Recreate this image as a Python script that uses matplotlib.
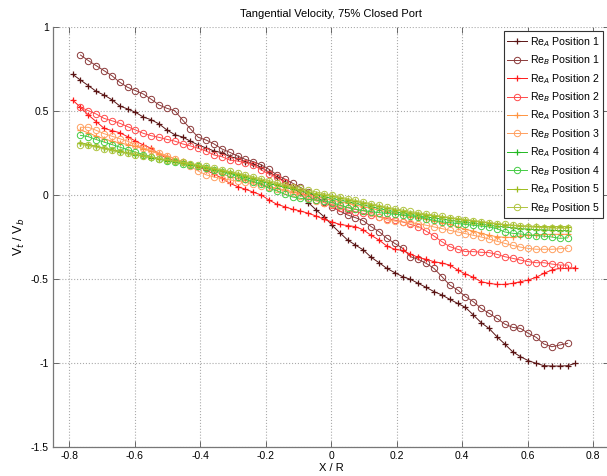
import matplotlib
matplotlib.use("Agg")
import matplotlib.pyplot as plt
from matplotlib.ticker import FuncFormatter

plt.rcParams['font.family'] = ['Liberation Sans', 'DejaVu Sans']
plt.rcParams['axes.unicode_minus'] = False

# measurement positions X/R
x_pos = [-0.790, -0.766, -0.742, -0.718, -0.694, -0.670, -0.646, -0.622, -0.598, -0.574,
         -0.550, -0.526, -0.502, -0.478, -0.454, -0.430, -0.406, -0.382, -0.358, -0.334,
         -0.310, -0.286, -0.262, -0.238, -0.214, -0.190, -0.166, -0.142, -0.118, -0.094,
         -0.070, -0.046, -0.022, 0.002, 0.026, 0.050, 0.074, 0.098, 0.122, 0.146,
         0.170, 0.194, 0.218, 0.242, 0.266, 0.290, 0.314, 0.338, 0.362, 0.386,
         0.410, 0.434, 0.458, 0.482, 0.506, 0.530, 0.554, 0.578, 0.602, 0.626,
         0.650, 0.674, 0.698, 0.722, 0.746]
x_long = x_pos          # Re_A position 1 and 2
x_short = x_pos[1:64]   # all other runs

reA_pos1 = [0.718, 0.684, 0.651, 0.617, 0.595, 0.567, 0.530, 0.512, 0.492, 0.464,
            0.448, 0.423, 0.387, 0.359, 0.345, 0.320, 0.298, 0.280, 0.262, 0.252,
            0.228, 0.218, 0.198, 0.185, 0.165, 0.135, 0.109, 0.080, 0.050, 0.010,
            -0.045, -0.089, -0.129, -0.179, -0.224, -0.268, -0.298, -0.327, -0.371, -0.403,
            -0.437, -0.462, -0.486, -0.502, -0.526, -0.550, -0.575, -0.595, -0.621, -0.645,
            -0.669, -0.714, -0.760, -0.794, -0.843, -0.887, -0.933, -0.962, -0.986, -1.002,
            -1.016, -1.018, -1.018, -1.016, -1.002]
reB_pos1 = [0.833, 0.800, 0.770, 0.740, 0.710, 0.671, 0.641, 0.621, 0.601, 0.570,
            0.536, 0.516, 0.502, 0.446, 0.393, 0.343, 0.327, 0.304, 0.274, 0.254,
            0.232, 0.212, 0.198, 0.180, 0.153, 0.120, 0.095, 0.070, 0.045, 0.020,
            -0.010, -0.040, -0.070, -0.095, -0.119, -0.135, -0.153, -0.188, -0.218, -0.258,
            -0.288, -0.317, -0.367, -0.383, -0.407, -0.437, -0.486, -0.536, -0.565, -0.605,
            -0.635, -0.675, -0.704, -0.734, -0.768, -0.788, -0.794, -0.823, -0.847, -0.887,
            -0.903, -0.893, -0.883]
reA_pos2 = [0.565, 0.522, 0.476, 0.437, 0.397, 0.383, 0.371, 0.347, 0.321, 0.298,
            0.278, 0.244, 0.218, 0.205, 0.195, 0.182, 0.169, 0.147, 0.125, 0.100,
            0.070, 0.050, 0.034, 0.017, 0.000, -0.030, -0.055, -0.070, -0.085, -0.095,
            -0.109, -0.125, -0.145, -0.160, -0.175, -0.182, -0.188, -0.208, -0.240, -0.268,
            -0.304, -0.323, -0.330, -0.352, -0.371, -0.383, -0.397, -0.405, -0.417, -0.446,
            -0.470, -0.490, -0.516, -0.526, -0.532, -0.532, -0.526, -0.516, -0.506, -0.490,
            -0.466, -0.446, -0.437, -0.437, -0.433]
reB_pos2 = [0.522, 0.502, 0.482, 0.456, 0.442, 0.427, 0.407, 0.387, 0.367, 0.353,
            0.343, 0.331, 0.321, 0.304, 0.292, 0.278, 0.262, 0.238, 0.228, 0.208,
            0.202, 0.192, 0.179, 0.149, 0.125, 0.105, 0.075, 0.045, 0.015, -0.008,
            -0.030, -0.045, -0.060, -0.075, -0.090, -0.100, -0.110, -0.120, -0.130, -0.140,
            -0.150, -0.160, -0.175, -0.188, -0.215, -0.244, -0.278, -0.307, -0.323, -0.337,
            -0.337, -0.341, -0.343, -0.353, -0.367, -0.377, -0.387, -0.397, -0.403, -0.403,
            -0.411, -0.417, -0.417]
reA_pos3 = [0.387, 0.370, 0.350, 0.335, 0.320, 0.310, 0.300, 0.290, 0.275, 0.260,
            0.245, 0.230, 0.215, 0.200, 0.185, 0.170, 0.155, 0.140, 0.125, 0.110,
            0.100, 0.088, 0.075, 0.063, 0.050, 0.040, 0.030, 0.020, 0.010, 0.000,
            -0.010, -0.020, -0.030, -0.040, -0.050, -0.060, -0.070, -0.080, -0.090, -0.100,
            -0.110, -0.120, -0.128, -0.135, -0.145, -0.155, -0.165, -0.175, -0.190, -0.205,
            -0.215, -0.228, -0.240, -0.248, -0.252, -0.252, -0.245, -0.240, -0.237, -0.235,
            -0.234, -0.234, -0.234]
reB_pos3 = [0.403, 0.403, 0.385, 0.365, 0.350, 0.335, 0.320, 0.300, 0.280, 0.265,
            0.250, 0.235, 0.215, 0.195, 0.170, 0.142, 0.120, 0.107, 0.097, 0.090,
            0.082, 0.075, 0.065, 0.055, 0.045, 0.035, 0.025, 0.010, -0.005, -0.020,
            -0.035, -0.045, -0.055, -0.065, -0.075, -0.085, -0.095, -0.110, -0.130, -0.149,
            -0.155, -0.160, -0.165, -0.170, -0.180, -0.190, -0.200, -0.210, -0.220, -0.230,
            -0.240, -0.250, -0.262, -0.275, -0.288, -0.300, -0.310, -0.318, -0.323, -0.323,
            -0.323, -0.320, -0.316]
reA_pos4 = [0.310, 0.300, 0.290, 0.278, 0.268, 0.258, 0.248, 0.240, 0.232, 0.222,
            0.213, 0.205, 0.196, 0.188, 0.179, 0.170, 0.160, 0.150, 0.140, 0.128,
            0.117, 0.105, 0.093, 0.080, 0.068, 0.057, 0.045, 0.035, 0.023, 0.012,
            0.000, -0.010, -0.020, -0.030, -0.040, -0.050, -0.060, -0.070, -0.080, -0.090,
            -0.100, -0.108, -0.116, -0.123, -0.130, -0.137, -0.143, -0.150, -0.156, -0.162,
            -0.168, -0.174, -0.180, -0.186, -0.190, -0.195, -0.200, -0.203, -0.206, -0.208,
            -0.210, -0.212, -0.212]
reB_pos4 = [0.355, 0.347, 0.330, 0.315, 0.300, 0.285, 0.270, 0.255, 0.240, 0.228,
            0.215, 0.205, 0.195, 0.185, 0.178, 0.170, 0.160, 0.150, 0.138, 0.125,
            0.110, 0.095, 0.080, 0.065, 0.040, 0.025, 0.005, -0.012, -0.020, -0.026,
            -0.030, -0.036, -0.045, -0.060, -0.075, -0.085, -0.093, -0.099, -0.105, -0.110,
            -0.115, -0.119, -0.124, -0.129, -0.140, -0.150, -0.160, -0.165, -0.170, -0.175,
            -0.180, -0.185, -0.190, -0.200, -0.220, -0.228, -0.232, -0.238, -0.242, -0.245,
            -0.250, -0.258, -0.255]
reA_pos5 = [0.310, 0.300, 0.290, 0.280, 0.270, 0.260, 0.250, 0.242, 0.234, 0.225,
            0.217, 0.208, 0.200, 0.192, 0.183, 0.175, 0.165, 0.155, 0.145, 0.135,
            0.125, 0.113, 0.100, 0.088, 0.076, 0.065, 0.053, 0.043, 0.030, 0.018,
            0.008, 0.000, -0.008, -0.018, -0.028, -0.038, -0.048, -0.058, -0.068, -0.078,
            -0.088, -0.097, -0.105, -0.112, -0.118, -0.124, -0.130, -0.137, -0.143, -0.149,
            -0.154, -0.160, -0.166, -0.172, -0.177, -0.180, -0.183, -0.185, -0.187, -0.188,
            -0.188, -0.188, -0.188]
reB_pos5 = [0.300, 0.295, 0.285, 0.275, 0.265, 0.255, 0.247, 0.240, 0.232, 0.225,
            0.217, 0.210, 0.202, 0.195, 0.187, 0.180, 0.170, 0.160, 0.150, 0.140,
            0.130, 0.120, 0.108, 0.096, 0.085, 0.073, 0.062, 0.050, 0.040, 0.028,
            0.018, 0.008, -0.002, -0.012, -0.022, -0.032, -0.042, -0.052, -0.062, -0.072,
            -0.082, -0.090, -0.098, -0.106, -0.113, -0.120, -0.127, -0.134, -0.140, -0.146,
            -0.152, -0.158, -0.164, -0.170, -0.175, -0.180, -0.185, -0.189, -0.192, -0.195,
            -0.197, -0.198, -0.198]

series = [
    (x_long, reA_pos1, '#5a1414', '+', 'Re$_A$ Position 1'),
    (x_short, reB_pos1, '#8b3a3a', 'o', 'Re$_B$ Position 1'),
    (x_long, reA_pos2, '#ff1a1a', '+', 'Re$_A$ Position 2'),
    (x_short, reB_pos2, '#ff4a4a', 'o', 'Re$_B$ Position 2'),
    (x_short, reA_pos3, '#ff9440', '+', 'Re$_A$ Position 3'),
    (x_short, reB_pos3, '#ffa060', 'o', 'Re$_B$ Position 3'),
    (x_short, reA_pos4, '#22b822', '+', 'Re$_A$ Position 4'),
    (x_short, reB_pos4, '#44cc44', 'o', 'Re$_B$ Position 4'),
    (x_short, reA_pos5, '#9cbc1c', '+', 'Re$_A$ Position 5'),
    (x_short, reB_pos5, '#b0c440', 'o', 'Re$_B$ Position 5'),
]

fig = plt.figure(figsize=(6.07, 4.76), dpi=100)
ax = fig.add_axes([0.0873, 0.0609, 0.9168, 0.8824])

for xs, ys, col, mk, lab in series:
    if mk == 'o':
        ax.plot(xs, ys, color=col, lw=0.7, marker='o', ms=4.6, mfc='none',
                mec=col, mew=0.7, label=lab)
    else:
        ax.plot(xs, ys, color=col, lw=0.7, marker='+', ms=5, mew=0.9, label=lab)

ax.set_xlim(-0.85, 0.85)
ax.set_ylim(-1.5, 1)
ax.set_xticks([-0.8, -0.6, -0.4, -0.2, 0, 0.2, 0.4, 0.6, 0.8])
ax.set_yticks([-1.5, -1, -0.5, 0, 0.5, 1])
fmt = FuncFormatter(lambda v, p: '%g' % round(v, 2))
ax.xaxis.set_major_formatter(fmt)
ax.yaxis.set_major_formatter(fmt)
ax.grid(True, linestyle=':', color='#aaaaaa', linewidth=0.8)
ax.tick_params(direction='in', length=4, width=0.6, color='#555555',
               labelsize=7.5, top=True, right=True, pad=3)

for side in ['left', 'bottom']:
    ax.spines[side].set_color('#777777')
    ax.spines[side].set_linewidth(0.9)
ax.spines['top'].set_visible(False)
ax.spines['right'].set_visible(False)

ax.set_title('Tangential Velocity, 75% Closed Port', fontsize=8, pad=7)
ax.set_xlabel('X / R', fontsize=8, labelpad=1)
ax.set_ylabel('V$_t$ / V$_b$', fontsize=9, labelpad=3)

leg = ax.legend(loc='upper right', bbox_to_anchor=(0.988, 0.99), borderaxespad=0,
                fontsize=7.6, fancybox=False, framealpha=1, edgecolor='#333333',
                handlelength=1.9, handletextpad=0.2, labelspacing=0.44,
                borderpad=0.35, numpoints=1)
leg.get_frame().set_linewidth(0.8)

fig.savefig('out.png', dpi=100)
